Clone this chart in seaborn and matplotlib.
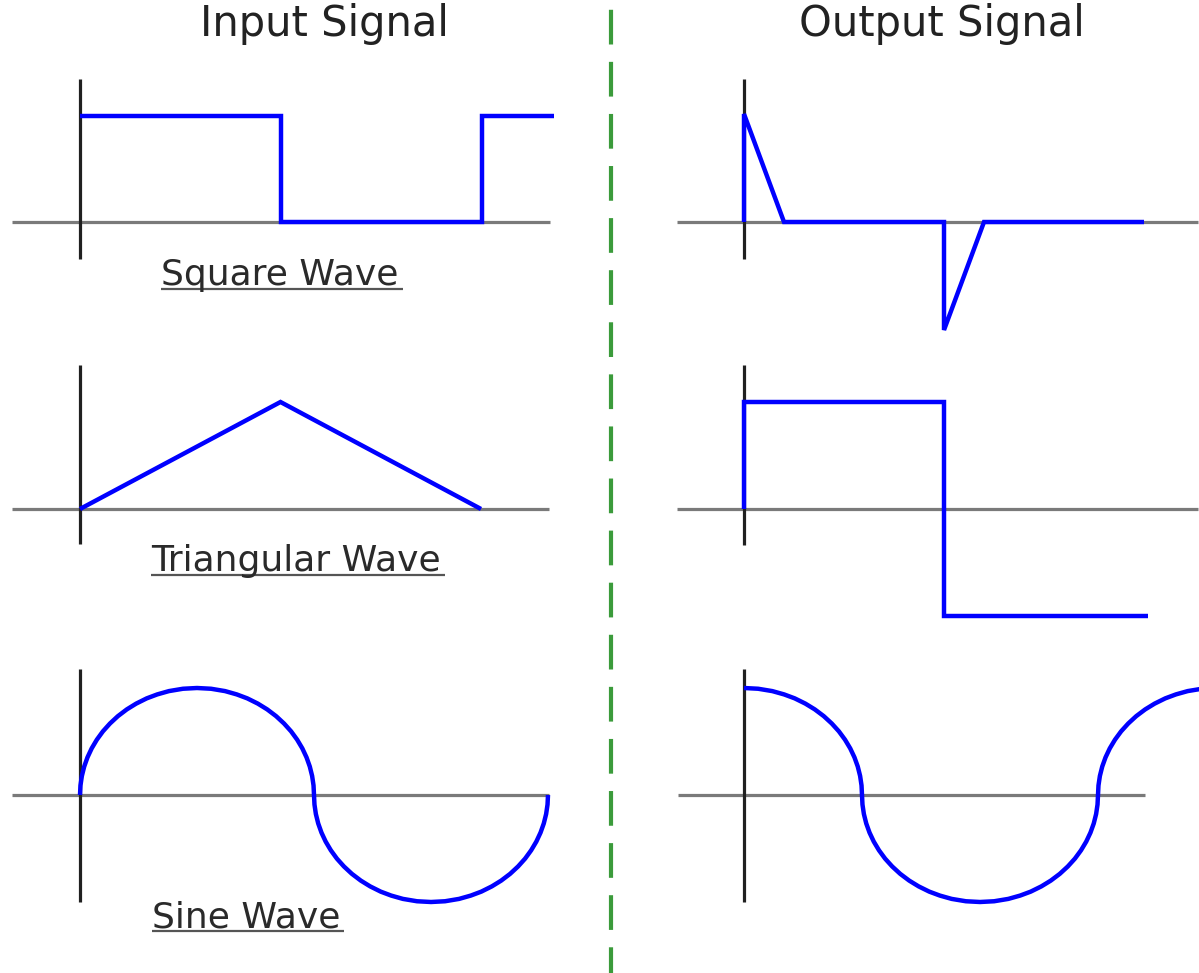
import matplotlib
matplotlib.use("Agg")
import matplotlib.pyplot as plt
import seaborn as sns

# ---------------- data ----------------
# time unit = one half-period of the input wave, amplitude unit = peak value
square_in_t = [0, 1, 1, 2, 2, 2.36]
square_in_v = [1, 1, 0, 0, 1, 1]

triangle_in_t = [0, 1, 2]
triangle_in_v = [0, 1, 0]

sine_in_t = [0, 0.002, 0.008, 0.018, 0.032, 0.05, 0.072, 0.098, 0.128, 0.162, 0.2,
             0.24, 0.285, 0.33, 0.38, 0.44, 0.5,
             0.56, 0.62, 0.67, 0.715, 0.76, 0.8, 0.838, 0.872, 0.902, 0.928,
             0.95, 0.968, 0.982, 0.992, 0.998, 1.0,
             1.002, 1.008, 1.018, 1.032, 1.05, 1.072, 1.098, 1.128, 1.162, 1.2,
             1.24, 1.285, 1.33, 1.38, 1.44, 1.5,
             1.56, 1.62, 1.67, 1.715, 1.76, 1.8, 1.838, 1.872, 1.902, 1.928,
             1.95, 1.968, 1.982, 1.992, 1.998, 2.0]
sine_in_v = [0, 0.089, 0.178, 0.266, 0.352, 0.436, 0.517, 0.595, 0.668, 0.737, 0.8,
             0.854, 0.903, 0.940, 0.971, 0.993, 1.0,
             0.993, 0.971, 0.940, 0.903, 0.854, 0.8, 0.737, 0.668, 0.595, 0.517,
             0.436, 0.352, 0.266, 0.178, 0.089, 0,
             -0.089, -0.178, -0.266, -0.352, -0.436, -0.517, -0.595, -0.668, -0.737, -0.8,
             -0.854, -0.903, -0.940, -0.971, -0.993, -1.0,
             -0.993, -0.971, -0.940, -0.903, -0.854, -0.8, -0.737, -0.668, -0.595, -0.517,
             -0.436, -0.352, -0.266, -0.178, -0.089, 0]

spike_out_t = [0, 0, 0.2, 1, 1, 1.2, 2.0]
spike_out_v = [0, 1, 0, 0, -1, 0, 0]

square_out_t = [0, 0, 1, 1, 2.02]
square_out_v = [0, 1, 1, -1, -1]

cosine_out_t = [0, 0.06, 0.12, 0.17, 0.215, 0.26, 0.3, 0.338, 0.372, 0.402, 0.428,
                0.45, 0.468, 0.482, 0.492, 0.498, 0.5,
                0.502, 0.508, 0.518, 0.532, 0.55, 0.572, 0.598, 0.628, 0.662, 0.7,
                0.74, 0.785, 0.83, 0.88, 0.94, 1.0,
                1.06, 1.12, 1.17, 1.215, 1.26, 1.3, 1.338, 1.372, 1.402, 1.428,
                1.45, 1.468, 1.482, 1.492, 1.498, 1.5,
                1.502, 1.508, 1.518, 1.532, 1.55, 1.572, 1.598, 1.628, 1.662, 1.7,
                1.74, 1.785, 1.83, 1.88, 1.94, 2.0]
cosine_out_v = [1.0, 0.993, 0.971, 0.940, 0.903, 0.854, 0.8, 0.737, 0.668, 0.595, 0.517,
                0.436, 0.352, 0.266, 0.178, 0.089, 0,
                -0.089, -0.178, -0.266, -0.352, -0.436, -0.517, -0.595, -0.668, -0.737, -0.8,
                -0.854, -0.903, -0.940, -0.971, -0.993, -1.0,
                -0.993, -0.971, -0.940, -0.903, -0.854, -0.8, -0.737, -0.668, -0.595, -0.517,
                -0.436, -0.352, -0.266, -0.178, -0.089, 0,
                0.089, 0.178, 0.266, 0.352, 0.436, 0.517, 0.595, 0.668, 0.737, 0.8,
                0.854, 0.903, 0.940, 0.971, 0.993, 1.0]

column_titles = ["Input Signal", "Output Signal"]
wave_labels = ["Square Wave", "Triangular Wave", "Sine Wave"]

# ---------------- layout / style ----------------
W, H = 1199, 973
sns.set_theme(style="white")
plt.rcParams["font.family"] = ["DejaVu Sans"]
plt.rcParams["lines.scale_dashes"] = False

fig = plt.figure(figsize=(W / 100, H / 100), dpi=100)
fig.patch.set_facecolor("white")

# background axes in pixel units for separator and text
bg = fig.add_axes([0, 0, 1, 1])
bg.set_xlim(0, W)
bg.set_ylim(H, 0)
bg.axis("off")

bg.axvline(611, color="#3b9b3b", lw=3.0, linestyle=(9 * 0.72, (25.0, 12.5)),
           solid_capstyle="butt")

BLUE = "#0000ff"
# (origin_x_px, origin_y_px, px per time unit, px per amplitude unit,
#  baseline extent (t0, t1), vertical axis extent (v0, v1), joinstyle)
panels = [
    (square_in_t, square_in_v, 80, 222, 201, 106, (-0.34, 2.34), (-0.35, 1.35), "miter"),
    (triangle_in_t, triangle_in_v, 80, 509, 200.5, 107, (-0.34, 2.34), (-0.33, 1.35), "miter"),
    (sine_in_t, sine_in_v, 80, 795, 234, 107, (-0.29, 2.005), (-1.0, 1.18), "round"),
    (spike_out_t, spike_out_v, 744, 222, 200, 108, (-0.335, 2.27), (-0.34, 1.32), "miter"),
    (square_out_t, square_out_v, 744, 509, 200, 107, (-0.335, 2.27), (-0.34, 1.35), "miter"),
    (cosine_out_t, cosine_out_v, 744, 795, 236, 107, (-0.28, 1.70), (-1.0, 1.18), "round"),
]

for t, v, ox, oy, sx, sy, bx, vy, js in panels:
    ax = fig.add_axes([0, 0, 1, 1])
    ax.set_facecolor("none")
    ax.set_xlim((0 - ox) / sx, (W - ox) / sx)
    ax.set_ylim((oy - H) / sy, oy / sy)
    ax.axis("off")
    ax.hlines(0, bx[0], bx[1], color="#7a7a7a", lw=2.3, zorder=1)
    ax.vlines(0, vy[0], vy[1], color="#202020", lw=2.3, zorder=1)
    sns.lineplot(x=t, y=v, ax=ax, sort=False, estimator=None, color=BLUE,
                 lw=3.2, solid_joinstyle=js, solid_capstyle="butt", zorder=3)

# titles
bg.text(324, 36, column_titles[0], ha="center", va="baseline", fontsize=30, color="#222222")
bg.text(942, 36, column_titles[1], ha="center", va="baseline", fontsize=30, color="#222222")

# underlined wave labels
label_pos = [(280, 285), (296, 571), (246, 927)]
texts = []
for lab, (x, y) in zip(wave_labels, label_pos):
    tx = bg.text(x, y, lab, ha="center", va="baseline", fontsize=26, color="#2a2a2a")
    texts.append((tx, y))

fig.canvas.draw()
renderer = fig.canvas.get_renderer()
inv = bg.transData.inverted()
for tx, y in texts:
    bb = tx.get_window_extent(renderer)
    x0 = inv.transform((bb.x0, bb.y0))[0]
    x1 = inv.transform((bb.x1, bb.y0))[0]
    bg.hlines(y + 4, x0, x1 + 4, color="#555555", lw=1.6)

fig.savefig("out.png", dpi=100, facecolor="white")
